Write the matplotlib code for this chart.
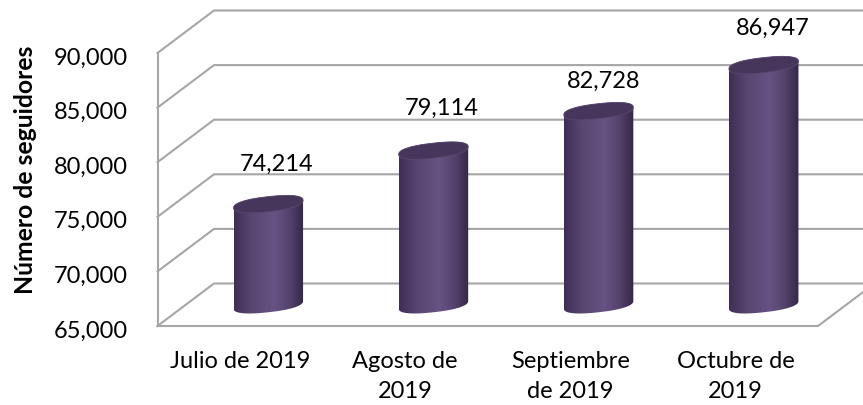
import numpy as np
import matplotlib
matplotlib.use("Agg")
import matplotlib.pyplot as plt
from matplotlib.colors import LinearSegmentedColormap
from matplotlib.patches import Polygon

categories = ["Julio de 2019", "Agosto de\n2019", "Septiembre\nde 2019", "Octubre de\n2019"]
values = [74214, 79114, 82728, 86947]
value_labels = ["74,214", "79,114", "82,728", "86,947"]
y_ticks = [65000, 70000, 75000, 80000, 85000, 90000]
y_tick_labels = ["65,000", "70,000", "75,000", "80,000", "85,000", "90,000"]
y_title = "Número de seguidores"

W, H = 863, 405
FONT = "Lato"
GRID = "#a6a6a6"
fig = plt.figure(figsize=(W / 100, H / 100), dpi=100)
ax = fig.add_axes([0, 0, 1, 1])
ax.axis("off")

# pixel geometry of the plot box
slot = 660.5 / 4
pxy = 273 / 25000
x0 = -0.5 - 157.5 / slot
x1 = 3.5 + (W - 818) / slot
y0 = 65000 - (H - 326) / pxy
y1 = 90000 + 53 / pxy
ddx = 56.5 / slot
ddy = 42.5 / pxy
ux, uy = 1 / slot, 1 / pxy

lw = 1.5
left, right = -0.5, 3.5
for t in y_ticks:
    ax.plot([left, left + ddx, right + ddx], [t, t + ddy, t + ddy],
            color=GRID, lw=lw, solid_joinstyle="miter", zorder=1)
ax.plot([left, left], [y_ticks[0], y_ticks[-1]], color=GRID, lw=lw, zorder=1)
ax.plot([left, right, right + ddx], [y_ticks[0], y_ticks[0], y_ticks[0] + ddy],
        color=GRID, lw=lw, solid_joinstyle="miter", zorder=1)

cmap = LinearSegmentedColormap.from_list("cyl", [
    (0.0, "#3e2e57"), (0.25, "#584570"), (0.58, "#675384"),
    (0.8, "#54426c"), (0.93, "#3f2f53"), (1.0, "#34264a")])
grad = np.linspace(0, 1, 256).reshape(1, -1)

half = 0.5 * 69.5 * ux
th = np.linspace(0, 2 * np.pi, 181)


def ellipse(cx, cy):
    c, s = np.cos(th), np.sin(th)
    cc = np.sign(c) * np.abs(c) ** 0.85
    ss = np.sign(s) * np.abs(s) ** 0.85
    return np.column_stack([cx + half * cc,
                            cy + (3.8 * cc + 7.5 * ss) * uy])


for i, v in enumerate(values):
    cx = i + ddx / 2
    base = y_ticks[0] + ddy / 2
    e_top = ellipse(cx, v + ddy / 2)
    e_base = ellipse(cx, base)
    body = np.vstack([[e_top[0]], e_top[:91], e_base[90:], [e_base[0]]])
    p = Polygon(body, closed=True, facecolor="none", edgecolor="none", zorder=3)
    ax.add_patch(p)
    im = ax.imshow(grad, cmap=cmap, aspect="auto", zorder=3, interpolation="bilinear",
                   extent=[cx - half, cx + half, base - 20 * uy, v + ddy / 2 + 20 * uy])
    im.set_clip_path(p)
    ax.add_patch(Polygon(e_top, closed=True, facecolor="#47365b",
                         edgecolor="#5a4870", lw=0.6, zorder=4))

label_shift_x = [8, 8, 5, 9]
label_shift_y = [-40, -42, -30, -37]
for i, (v, s) in enumerate(zip(values, value_labels)):
    ax.text(i + ddx / 2 + label_shift_x[i] * ux, v + ddy / 2 - label_shift_y[i] * uy, s,
            ha="center", va="center", family=FONT, fontsize=17, color="black", zorder=5)

for t, s in zip(y_ticks, y_tick_labels):
    ax.text(left - 30 * ux, t - 5 * uy, s, ha="right", va="center", family=FONT, fontsize=17, color="black")

for i, c in enumerate(categories):
    n = c.count("\n")
    ax.text(i, y_ticks[0] - (36 + 14.5 * n) * uy, c, ha="center", va="center",
            family=FONT, fontsize=17, color="black", linespacing=1.5)

ax.text(left - 131.5 * ux, 77500 + 20 * uy, y_title, rotation=90, ha="center", va="center",
        family=FONT, fontsize=17.8, fontweight="bold", color="black")

ax.set_xlim(x0, x1)
ax.set_ylim(y0, y1)
fig.savefig("out.png", dpi=100, facecolor="white")
